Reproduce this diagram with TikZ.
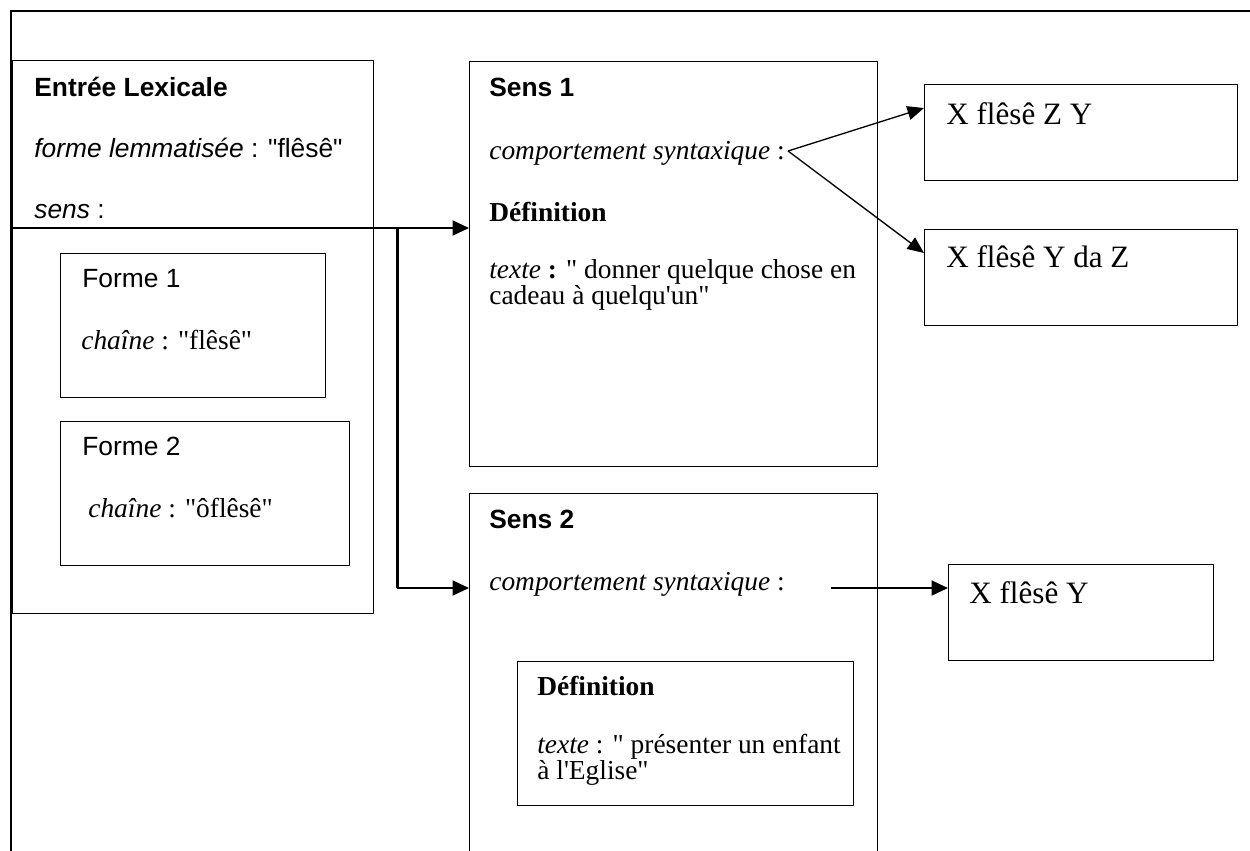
\documentclass[tikz,border=0pt]{standalone}
\usepackage{fontspec}
\setmainfont{Liberation Serif}[Ligatures=TeXOff]
\setsansfont{Liberation Sans}[Ligatures=TeXOff]
\usepackage{tikz}
\usetikzlibrary{calc,arrows.meta}

\newcommand{\sanstxt}{\sffamily\fontsize{15}{18}\selectfont}
\newcommand{\sertxt}{\rmfamily\fontsize{15.6}{16}\selectfont}
\newcommand{\bigtxt}{\rmfamily\fontsize{17.7}{20}\selectfont}

\begin{document}
\begin{tikzpicture}[x=0.02cm, y=-0.02cm,
    box/.style 2 args={draw, line width=0.8pt, anchor=north west, inner sep=0pt,
        minimum width=#1, minimum height=#2},
    txt/.style={anchor=base west, inner sep=0pt},
    arr/.style={-{Triangle[length=0.33cm,width=0.3cm]}, line width=1.1pt},
    thin arr/.style={-{Triangle[length=0.33cm,width=0.28cm]}, line width=0.75pt}]

    \clip (0,0) rectangle (1250,850);

    % outer frame, cut by the page on the right and at the bottom
    \draw[line width=1.6pt] (11,880) -- (11,11) -- (1280,11);

    % lexical entry
    \node[box={7.22cm}{11.06cm}] (entree) at (12,60) {};
    \node[txt] (titre) at (34,96) {\sanstxt\bfseries Entrée Lexicale};
    \node[txt] (lemme) at (34,157) {\sanstxt\textit{forme lemmatisée} : "flêsê"};
    \node[txt] (sens) at (34,218) {\sanstxt\textit{sens} :};

    \node[box={5.3cm}{2.88cm}] (f1) at (60,253) {};
    \node[txt] (forme1) at (82,287) {\sanstxt Forme 1};
    \node[txt] (chaine1) at (81,349) {\sertxt\textit{chaîne} : "flêsê"};

    \node[box={5.78cm}{2.88cm}] (f2) at (60,421) {};
    \node[txt] (forme2) at (82,455) {\sanstxt Forme 2};
    \node[txt] (chaine2) at (88,517) {\sertxt\textit{chaîne} : "ôflêsê"};

    % first sense
    \node[box={8.16cm}{8.1cm}] (sens1) at (469,61) {};
    \node[txt] (titre1) at (489,96) {\sanstxt\bfseries Sens 1};
    \node[txt] (comp1) at (489,159) {\sertxt\textit{comportement syntaxique} :};
    \node[txt] (def1) at (489,221) {\sertxt\bfseries Définition};
    \node[txt] (texte1) at (489,278) {\sertxt\textit{texte} \textbf{:} " donner quelque chose en};
    \node[txt] (texte1b) at (489,304) {\sertxt cadeau à quelqu'un"};

    % second sense
    \node[box={8.16cm}{7.9cm}] (sens2) at (469,493) {};
    \node[txt] (titre2) at (489,528) {\sanstxt\bfseries Sens 2};
    \node[txt] (comp2) at (489,590) {\sertxt\textit{comportement syntaxique} :};
    \node[box={6.72cm}{2.88cm}] (def2) at (517,661) {};
    \node[txt] (def2t) at (537,695) {\sertxt\bfseries Définition};
    \node[txt] (texte2) at (537,753) {\sertxt\textit{texte} : " présenter un enfant};
    \node[txt] (texte2b) at (537,779) {\sertxt à l'Eglise"};

    % syntactic frames
    \node[box={6.26cm}{1.92cm}] (xzy) at (924,84) {};
    \node[txt] (xzyt) at (946,124) {\bigtxt X flêsê Z Y};
    \node[box={6.26cm}{1.92cm}] (xyz) at (924,229) {};
    \node[txt] (xyzt) at (946,267) {\bigtxt X flêsê Y da Z};
    \node[box={5.3cm}{1.92cm}] (xy) at (948,564) {};
    \node[txt] (xyt) at (969,603) {\bigtxt X flêsê Y};

    % links
    \coordinate (sensrow) at ($(sens.base west)+(0,10)$);
    \coordinate (row2) at ($(comp2.base west)+(0,-2)$);
    \coordinate (fork) at ($(entree.east |- sensrow)+(23,0)$);
    \coordinate (c1) at ($(comp1.base east)+(3,-8)$);

    \draw[arr] (entree.west |- sensrow) -- (sens1.west |- sensrow);
    \draw[line width=1.8pt] (fork) -- (fork |- row2);
    \draw[arr] (fork |- row2) -- (sens2.west |- row2);

    \draw[thin arr] (c1) -- ($(xzy.north west)+(0,24)$);
    \draw[thin arr] (c1) -- ($(xyz.north west)+(0,24)$);
    \draw[arr] ($(comp2.base east)+(46,-2)$) -- (xy.west |- row2);
\end{tikzpicture}
\end{document}
